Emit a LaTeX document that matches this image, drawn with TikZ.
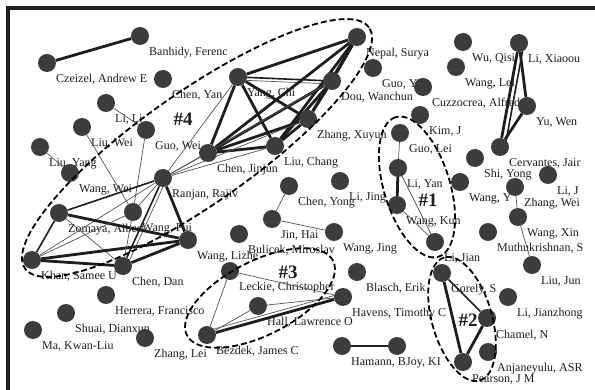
\documentclass[tikz,border=0pt]{standalone}
\usepackage{fontspec}
\setmainfont{Liberation Serif}
\pgfdeclarelayer{paper}
\pgfdeclarelayer{txt}
\pgfdeclarelayer{edges}
\pgfsetlayers{paper,txt,edges,main}
\definecolor{vfill}{HTML}{3C3C3C}
\definecolor{ink}{HTML}{1E1E1E}
\tikzset{
  vtx/.style={circle, fill=vfill, minimum size=18pt, inner sep=0pt},
  lbl/.style={anchor=base west, inner sep=0pt, font=\fontsize{12}{14}\selectfont, text=ink},
  tie/.style={draw=ink!75, line width=0.7pt},
  tiem/.style={draw=ink, line width=1.6pt},
  tiek/.style={draw=ink, line width=2.8pt},
  grp/.style={draw=black, line width=1.8pt, dash pattern=on 6pt off 3pt},
  tag/.style={font=\fontsize{19}{21}\selectfont\bfseries, text=ink, inner sep=0pt},
  frame/.style={draw=ink, line width=3.2pt},
}
% author vertex: name, x, y, caption (caption sits below right of the dot)
\newcommand\authorvx[4]{%
  \node[vtx] (#1) at (#2,#3) {};
  \begin{pgfonlayer}{txt}
    \node[lbl] (#1-t) at ([shift={(9,20)}]#1.center) {#4};
  \end{pgfonlayer}}
\begin{document}
\begin{tikzpicture}[x=1pt, y=-1pt]
\useasboundingbox (0,0) rectangle (595,390);
\begin{pgfonlayer}{paper}
\fill[white] (0,0) rectangle (595,390);
\end{pgfonlayer}
\coordinate (fa) at (8,390);
\coordinate (fb) at (8,8);
\coordinate (fc) at (595,8);
\draw[frame] (fa) -- (fb) -- (fc);

% ---- authors ----
\authorvx{czeizel}{47}{63}{Czeizel, Andrew E}
\authorvx{banhidy}{140}{36}{Banhidy, Ferenc}
\authorvx{chenyan}{163}{79}{Chen, Yan}
\authorvx{yangchi}{238}{77}{Yang, Chi}
\authorvx{nepal}{357}{37}{Nepal, Surya}
\authorvx{guoyike}{373}{68}{Guo, Yike}
\authorvx{dou}{332}{81}{Dou, Wanchun}
\authorvx{cuzzo}{423}{87}{Cuzzocrea, Alfredo}
\authorvx{kim}{420}{115}{Kim, J}
\authorvx{wanglei}{456}{67}{Wang, Lei}
\authorvx{wuqisi}{463}{42}{Wu, Qisi}
\authorvx{lixiaoou}{519}{43}{Li, Xiaoou}
\authorvx{yuwen}{527}{106}{Yu, Wen}
\authorvx{cervantes}{500}{147}{Cervantes, Jair}
\authorvx{shiyong}{475}{158}{Shi, Yong}
\authorvx{wangy}{460}{182}{Wang, Y}
\authorvx{lij}{548}{175}{Li, J}
\authorvx{zhangwei}{515}{187}{Zhang, Wei}
\authorvx{wangxin}{518}{217}{Wang, Xin}
\authorvx{muthu}{488}{232}{Muthukrishnan, S}
\authorvx{liujun}{532}{265}{Liu, Jun}
\authorvx{lijianzhong}{508}{297}{Li, Jianzhong}
\authorvx{chamel}{487}{318}{Chamel, N}
\authorvx{gorely}{442}{273}{Gorely, S}
\authorvx{anjan}{488}{352}{Anjaneyulu, ASR}
\authorvx{pearson}{463}{362}{Pearson, J M}
\authorvx{lijian}{435}{242}{Li, Jian}
\authorvx{wangkun}{397}{205}{Wang, Kun}
\authorvx{liyan}{398}{168}{Li, Yan}
\authorvx{guolei}{400}{133}{Guo, Lei}
\authorvx{lijing}{340}{181}{Li, Jing}
\authorvx{chenyong}{289}{186}{Chen, Yong}
\authorvx{jinhai}{272}{219}{Jin, Hai}
\authorvx{wangjing}{334}{232}{Wang, Jing}
\authorvx{bulicek}{239}{234}{Bulicek, Miroslav}
\authorvx{zhangx}{308}{119}{Zhang, Xuyun}
\authorvx{liuchang}{275}{146}{Liu, Chang}
\authorvx{jinjun}{208}{153}{Chen, Jinjun}
\authorvx{guowei}{146}{130}{Guo, Wei}
\authorvx{lili}{106}{103}{Li, Li}
\authorvx{liuwei}{82}{127}{Liu, Wei}
\authorvx{liuyang}{40}{147}{Liu, Yang}
\authorvx{wangwei}{70}{173}{Wang, Wei}
\authorvx{ranjan}{163}{178}{Ranjan, Rajiv}
\authorvx{zomaya}{59}{213}{Zomaya, Albert}
\authorvx{wangpui}{133}{212}{Wang, Pui}
\authorvx{khan}{32}{260}{Khan, Samee U}
\authorvx{chendan}{123}{266}{Chen, Dan}
\authorvx{wanglizhe}{188}{240}{Wang, Lizhe}
\authorvx{leckie}{230}{271}{Leckie, Christopher}
\authorvx{hall}{258}{306}{Hall, Lawrence O}
\authorvx{havens}{343}{297}{Havens, Timothy C}
\authorvx{bezdek}{207}{335}{Bezdek, James C}
\authorvx{blasch}{357}{272}{Blasch, Erik}
\authorvx{herrera}{106}{295}{Herrera, Francisco}
\authorvx{shuai}{66}{313}{Shuai, Dianxun}
\authorvx{ma}{33}{330}{Ma, Kwan-Liu}
\authorvx{zhanglei}{145}{338}{Zhang, Lei}
\authorvx{hamann}{342}{346}{Hamann, B}
\authorvx{joy}{397}{346}{Joy, KI}

% ---- co-authorship ties ----
\begin{pgfonlayer}{edges}
\draw[tiek] (banhidy) -- (czeizel);
% cluster 4, upper part
\draw[tiek] (yangchi) -- (nepal);
\draw[tiem] (yangchi) -- (dou);
\draw[tie] ([shift={(0,3)}]yangchi.center) -- ([shift={(0,3)}]dou.center);
\draw[tiek] (yangchi) -- (zhangx);
\draw[tiek] (yangchi) -- (liuchang);
\draw[tiek] (yangchi) -- (jinjun);
\draw[tiek] (nepal) -- (dou);
\draw[tiek] (nepal) -- (zhangx);
\draw[tiek] (nepal) -- (liuchang);
\draw[tiek] (nepal) -- (jinjun);
\draw[tiek] (dou) -- (zhangx);
\draw[tiek] (dou) -- (liuchang);
\draw[tiek] (dou) -- (jinjun);
\draw[tiek] (zhangx) -- (liuchang);
\draw[tiek] (zhangx) -- (jinjun);
\draw[tiek] (liuchang) -- (jinjun);
\draw[tie] (yangchi) -- (ranjan);
\draw[tie] (jinjun) -- (ranjan);
\draw[tie] (liuchang) -- (ranjan);
\draw[tie] (zhangx) -- (ranjan);
\draw[tie] (dou) -- (ranjan);
% cluster 4, lower part
\draw[tie] (guowei) -- (wangpui);
\draw[tie] (liuwei) -- (wangpui);
\draw[tie] (liuyang) -- (wangwei);
\draw[tie] (lili) -- (guowei);
\draw[tiem] (ranjan) -- (zomaya);
\draw[tiem] (ranjan) -- (chendan);
\draw[tie] ([shift={(4,0)}]ranjan.center) -- ([shift={(4,0)}]chendan.center);
\draw[tiek] (ranjan) -- (wanglizhe);
\draw[tie] (ranjan) -- (khan);
\draw[tie] (ranjan) -- (wangpui);
\draw[tiek] (zomaya) -- (wanglizhe);
\draw[tiem] (zomaya) -- (khan);
\draw[tie] (zomaya) -- (chendan);
\draw[tiek] (khan) -- (wanglizhe);
\draw[tiek] (khan) -- (chendan);
\draw[tiek] (chendan) -- (wanglizhe);
\draw[tie] (wangpui) -- (chendan);
\draw[tie] (wangpui) -- (khan);
% cluster 1
\draw[tie] (guolei) -- (liyan);
\draw[tiek] (liyan) -- (wangkun);
\draw[tie] (liyan) -- (lijian);
\draw[tie] (wangkun) -- (lijian);
% cluster 2
\draw[tiek] (gorely) -- (pearson);
\draw[tiem] (gorely) -- (chamel);
\draw[tiek] (chamel) -- (pearson);
% cluster 3
\draw[tie] (leckie) -- (havens);
\draw[tie] (leckie) -- (bezdek);
\draw[tie] (hall) -- (havens);
\draw[tie] (hall) -- (bezdek);
\draw[tiek] (bezdek) -- (havens);
\draw[tie] ([shift={(0,-4)}]bezdek.center) -- ([shift={(0,-4)}]havens.center);
% small groups
\draw[tiek] (lixiaoou) -- (yuwen);
\draw[tiek] (lixiaoou) -- (cervantes);
\draw[tiem] ([shift={(5,0)}]lixiaoou.center) -- ([shift={(5,0)}]cervantes.center);
\draw[tiek] (yuwen) -- (cervantes);
\draw[tie] (zhangwei) -- (wangxin);
\draw[tie] (wangxin) -- (liujun);
\draw[tie] (chenyong) -- (jinhai);
\draw[tie] (jinhai) -- (wangjing);
\draw[tiek] (hamann) -- (joy);
\end{pgfonlayer}

% ---- cluster outlines ----
\draw[grp, shift={(197,148)}, rotate=35] (0,0) ellipse [x radius=210pt, y radius=56pt];
\draw[grp, shift={(417,187)}, rotate=107] (0,0) ellipse [x radius=73pt, y radius=33pt];
\draw[grp, shift={(462,319)}, rotate=106] (0,0) ellipse [x radius=64pt, y radius=30pt];
\draw[grp, shift={(260,298)}, rotate=27] (0,0) ellipse [x radius=82pt, y radius=37pt];

\node[tag] (c4) at (183,119) {\#4};
\node[tag] (c1) at (428,200) {\#1};
\node[tag] (c2) at (468,320) {\#2};
\node[tag] (c3) at (288,272) {\#3};
\end{tikzpicture}
\end{document}
